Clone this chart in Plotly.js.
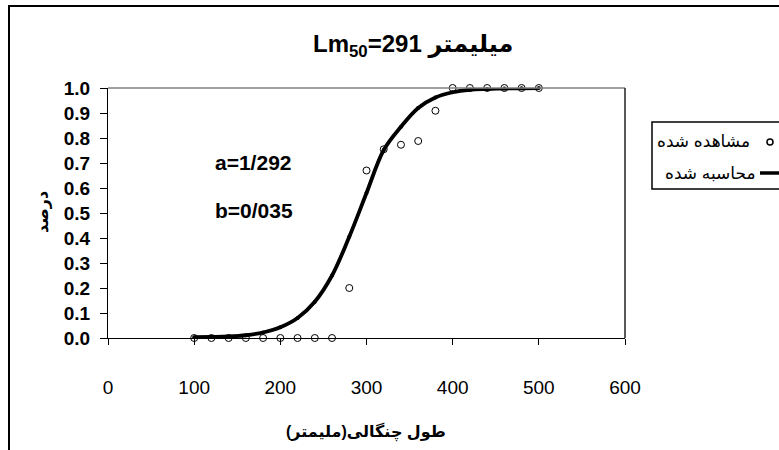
<!DOCTYPE html>
<html>
<head>
<meta charset="utf-8">
<script src="https://cdn.plot.ly/plotly-3.0.1.min.js"></script>
<style>html,body{margin:0;padding:0;background:#fff;}#chart{width:779px;height:450px;}</style>
</head>
<body>
<div id="chart"></div>
<script>
// Data
const lengths = [100,120,140,160,180,200,220,240,260,280,300,320,340,360,380,400,420,440,460,480,500];
const observed = [0,0,0,0,0,0,0,0,0,0.2,0.67,0.755,0.773,0.788,0.909,1,1,1,1,1,1];
const calculated = [0.003,0.004,0.006,0.011,0.022,0.043,0.08,0.145,0.25,0.405,0.58,0.752,0.845,0.92,0.962,0.983,0.993,0.996,0.998,0.999,1.0];
const seriesNames = ["مشاهده شده", "محاسبه شده"];
const titleText = "Lm<sub>50</sub>=291 میلیمتر";
const xTitle = "طول چنگالی(ملیمتر)";
const yTitle = "درصد";
const paramA = "a=1/292";
const paramB = "b=0/035";

const W = 779, H = 450;
const L = 108, R = 625, T = 88, B = 338;
const px = v => (v - L) / (R - L);
const py = v => (B - v) / (B - T);

const traces = [
  {
    x: lengths, y: observed, name: seriesNames[0], type: 'scatter', mode: 'markers',
    marker: {symbol: 'circle', size: 7, color: '#ffffff', line: {color: '#000000', width: 1}},
    cliponaxis: false, showlegend: false
  },
  {
    x: lengths, y: calculated, name: seriesNames[1], type: 'scatter', mode: 'lines+markers',
    line: {color: '#000000', width: 3.8, shape: 'spline', smoothing: 1},
    marker: {symbol: 'circle', size: 4, color: '#000000'},
    cliponaxis: false, showlegend: false
  }
];

const boldFont = 'Liberation Sans, Arial, DejaVu Sans, sans-serif';

const layout = {
  width: W, height: H,
  margin: {l: L, r: W - R, t: T, b: H - B, pad: 0},
  paper_bgcolor: '#ffffff', plot_bgcolor: '#ffffff',
  showlegend: false,
  font: {family: boldFont, color: '#000000'},
  xaxis: {
    range: [0, 600], dtick: 100, tick0: 0, showgrid: false, zeroline: false,
    showline: true, linecolor: '#000000', linewidth: 1,
    ticks: 'outside', ticklen: 6, tickcolor: '#000000', tickwidth: 1,
    ticklabelstandoff: 26,
    tickfont: {family: boldFont, size: 19, color: '#000000'}
  },
  yaxis: {
    range: [0, 1], dtick: 0.1, tick0: 0, tickformat: '.1f', showgrid: false, zeroline: false,
    showline: true, linecolor: '#000000', linewidth: 1,
    ticks: 'outside', ticklen: 7, tickcolor: '#000000', tickwidth: 1,
    ticklabelstandoff: 6,
    tickfont: {family: boldFont, size: 19, color: '#000000', weight: 'bold'}
  },
  shapes: [
    // outer chart border
    {type: 'rect', xref: 'paper', yref: 'paper', x0: px(9), x1: px(820), y0: py(480), y1: py(6),
     line: {color: '#000000', width: 2}, fillcolor: 'rgba(0,0,0,0)', layer: 'below'},
    // top plot border (gray)
    {type: 'line', xref: 'paper', yref: 'paper', x0: 0, x1: 1, y0: 1, y1: 1, line: {color: '#808080', width: 1.5}},
    // right plot border
    {type: 'line', xref: 'paper', yref: 'paper', x0: 1, x1: 1, y0: 0, y1: 1, line: {color: '#222222', width: 1.5}},
    // legend box
    {type: 'rect', xref: 'paper', yref: 'paper', x0: px(652), x1: px(820), y0: py(189), y1: py(122),
     line: {color: '#000000', width: 1.5}, fillcolor: '#ffffff'},
    // legend symbol: observed circle
    {type: 'circle', xref: 'paper', yref: 'paper', xsizemode: 'pixel', ysizemode: 'pixel',
     xanchor: px(770), yanchor: py(142), x0: -3, x1: 3, y0: -3, y1: 3,
     line: {color: '#000000', width: 1.5}, fillcolor: '#ffffff'},
    // legend symbol: calculated line
    {type: 'line', xref: 'paper', yref: 'paper', x0: px(760), x1: px(800), y0: py(173), y1: py(173),
     line: {color: '#000000', width: 3.5}}
  ],
  annotations: [
    {text: '<b>' + titleText + '</b>', xref: 'paper', yref: 'paper', x: px(413), y: py(45),
     xanchor: 'center', yanchor: 'middle', showarrow: false,
     font: {family: boldFont, size: 24, color: '#000000'}},
    {text: '<b>' + xTitle + '</b>', xref: 'paper', yref: 'paper', x: px(366), y: py(432),
     xanchor: 'center', yanchor: 'middle', showarrow: false,
     font: {family: boldFont, size: 16, color: '#000000'}},
    {text: '<b>' + yTitle + '</b>', xref: 'paper', yref: 'paper', x: px(43), y: py(212),
     xanchor: 'center', yanchor: 'middle', showarrow: false, textangle: -90,
     font: {family: boldFont, size: 16, color: '#000000'}},
    {text: '<b>' + paramA + '</b>', xref: 'paper', yref: 'paper', x: px(213), y: py(162),
     xanchor: 'left', yanchor: 'middle', showarrow: false,
     font: {family: boldFont, size: 21, color: '#000000'}},
    {text: '<b>' + paramB + '</b>', xref: 'paper', yref: 'paper', x: px(213), y: py(210),
     xanchor: 'left', yanchor: 'middle', showarrow: false,
     font: {family: boldFont, size: 21, color: '#000000'}},
    {text: seriesNames[0], xref: 'paper', yref: 'paper', x: px(752), y: py(141),
     xanchor: 'right', yanchor: 'middle', showarrow: false,
     font: {family: boldFont, size: 17, color: '#000000'}},
    {text: seriesNames[1], xref: 'paper', yref: 'paper', x: px(758), y: py(173),
     xanchor: 'right', yanchor: 'middle', showarrow: false,
     font: {family: boldFont, size: 17, color: '#000000'}}
  ]
};

Plotly.newPlot('chart', traces, layout, {displayModeBar: false, staticPlot: true});
</script>
</body>
</html>
